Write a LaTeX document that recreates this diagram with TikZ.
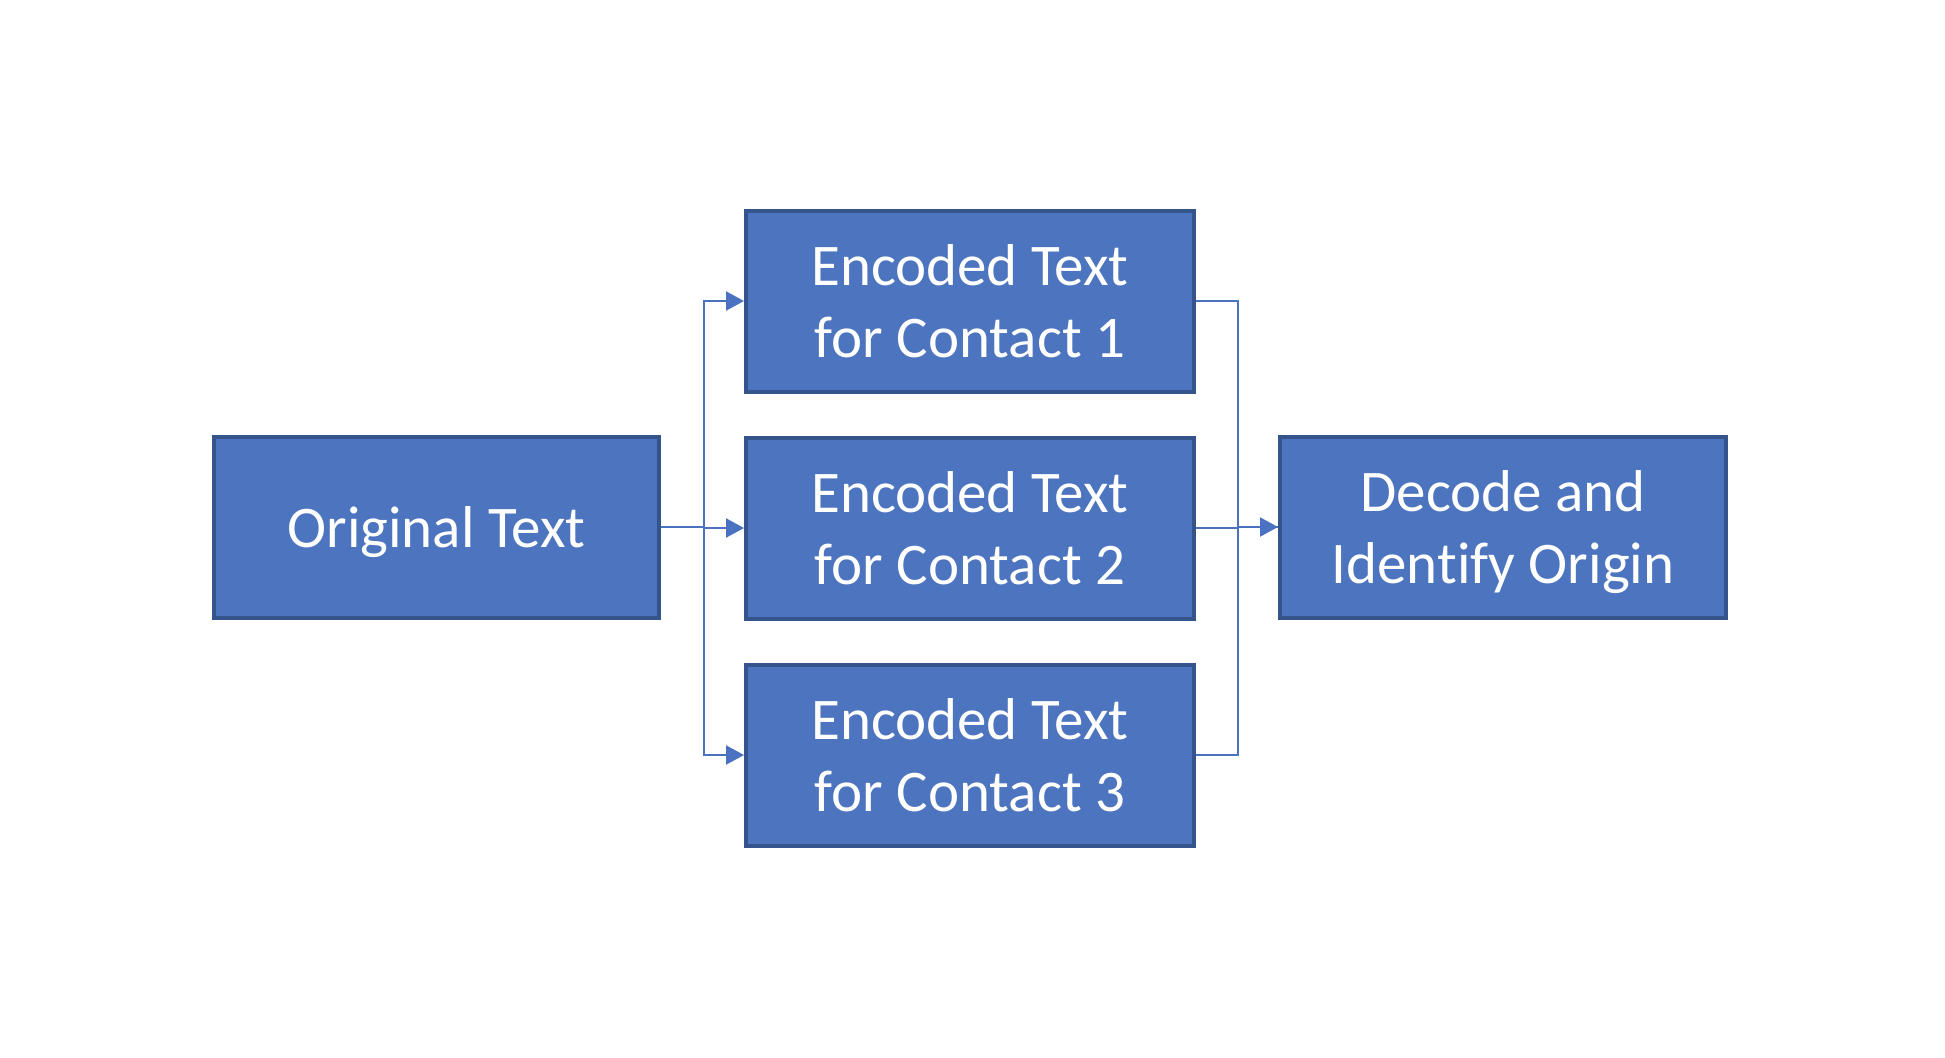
\documentclass[tikz,border=0pt]{standalone}
\usepackage{fontspec}
\setmainfont{Carlito}[Ligatures=NoCommon]
\usetikzlibrary{arrows.meta}
\definecolor{boxfill}{HTML}{4D74BF}
\definecolor{boxline}{HTML}{35548C}
\definecolor{linecol}{HTML}{4A72C0}
\begin{document}
\begin{tikzpicture}[x=1pt,y=-1pt,
  blk/.style={draw=boxline, line width=4pt, fill=boxfill, text=white,
    minimum width=445pt, minimum height=181pt, inner sep=0pt, text depth=0pt,
    align=center, font=\fontsize{59}{72}\selectfont},
  conn/.style={draw=linecol, line width=2.2pt},
  arr/.style={conn, -{Triangle[length=18pt,width=19pt]}}]
\useasboundingbox (0,0) rectangle (1945,1057);
\node[blk] (o) at (436.5,527) {Original Text};
\node[blk, minimum width=448pt] (e1) at (970,301) {Encoded Text\\for Contact 1};
\node[blk, minimum width=448pt] (e2) at (970,528) {Encoded Text\\for Contact 2};
\node[blk, minimum width=448pt] (e3) at (970,755) {Encoded Text\\for Contact 3};
\node[blk, minimum width=446pt] (d) at (1503,527) {Decode and\\Identify Origin};
\draw[arr] (o.east) -- ++(43,0) |- (e1.west);
\draw[arr] (o.east) -- ++(43,0) |- (e2.west);
\draw[arr] (o.east) -- ++(43,0) |- (e3.west);
\draw[conn] (e1.east) -- ++(42,0) |- (d.west);
\draw[conn] (e3.east) -- ++(42,0) |- (d.west);
\draw[arr] (e2.east) -- ++(42,0) |- (d.west);
\end{tikzpicture}
\end{document}
